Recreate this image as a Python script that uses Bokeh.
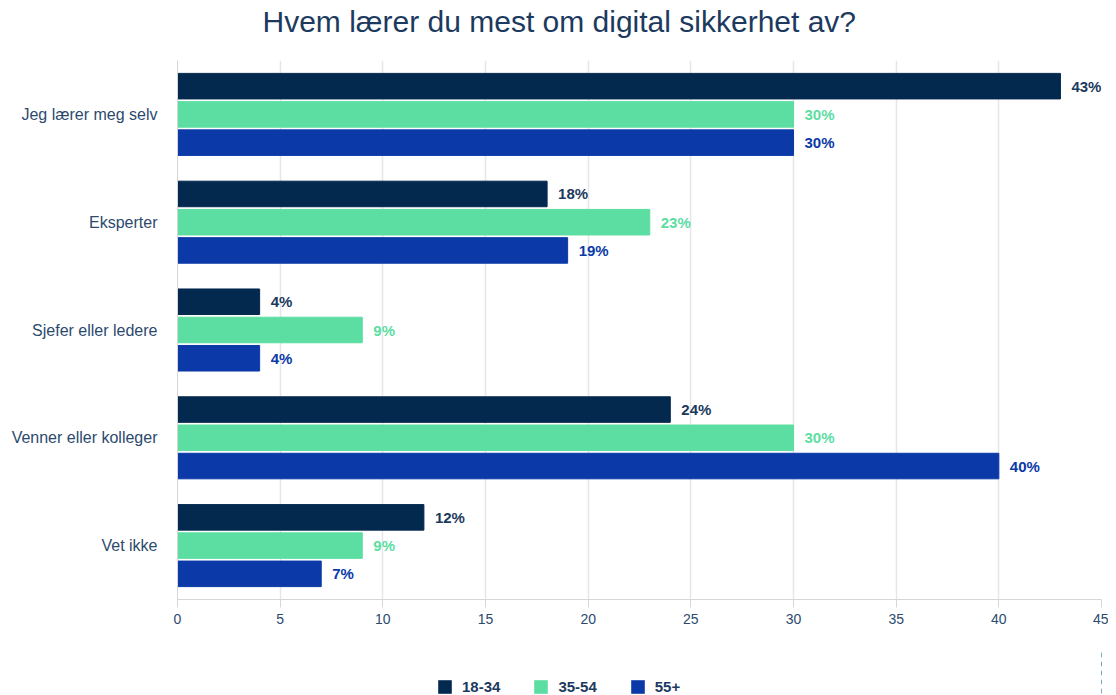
from bokeh.plotting import figure
from bokeh.layouts import column
from bokeh.models import ColumnDataSource, FactorRange, Range1d, LabelSet, Legend, LegendItem, FixedTicker, Title
from bokeh.transform import dodge
from bokeh.core.properties import value
from bokeh.embed import file_html
from bokeh.resources import INLINE

categories = ["Jeg lærer meg selv", "Eksperter", "Sjefer eller ledere", "Venner eller kolleger", "Vet ikke"]
groups = ["18-34", "35-54", "55+"]
v_18_34 = [43, 18, 4, 24, 12]
v_35_54 = [30, 23, 9, 30, 9]
v_55 = [30, 19, 4, 40, 7]
x_ticks = [0, 5, 10, 15, 20, 25, 30, 35, 40, 45]

colors = ["#04294f", "#5cdea2", "#0b3aa8"]
series = [v_18_34, v_35_54, v_55]
offsets = [0.262, 0.0, -0.262]

FONT = "Liberation Sans"
TXT = "#2c4a6e"

p = figure(width=1108, height=650, output_backend="svg", toolbar_location=None,
           y_range=FactorRange(factors=list(reversed(categories)), range_padding=0),
           x_range=Range1d(0, 45), min_border_left=177, min_border_right=7,
           min_border_top=0, min_border_bottom=51)
# blank spacer between the title and the plot frame
p.add_layout(Title(text=" ", text_alpha=0.01, text_font_size="10px", standoff=8), "above")
p.title = Title(text="Hvem lærer du mest om digital sikkerhet av?", align="left",
                text_font=FONT, text_font_size="30px", text_font_style="normal",
                text_color="#1c3a5e", offset=85, standoff=4)
p.outline_line_color = None

sources = []
for g, vals, col, off in zip(groups, series, colors, offsets):
    src = ColumnDataSource(dict(cat=categories, val=vals, lbl=[f"{v}%" for v in vals]))
    sources.append(src)
    p.hbar(y=dodge("cat", off, range=p.y_range), right="val", left=0, height=0.237,
           source=src, fill_color=col, line_color=col)
    labels = LabelSet(x="val", y=dodge("cat", off, range=p.y_range), text="lbl", source=src,
                      x_offset=11, text_baseline="middle", text_font=value(FONT),
                      text_font_size=value("15px"), text_font_style=value("bold"),
                      text_color=value("#1c3a5e" if g == "18-34" else col))
    p.add_layout(labels)

p.xaxis.ticker = FixedTicker(ticks=x_ticks)
p.xaxis.axis_line_color = "#d6d6d6"
p.xaxis.major_tick_line_color = "#d6d6d6"
p.xaxis.major_tick_out = 8
p.xaxis.major_tick_in = 0
p.xaxis.minor_tick_line_color = None
p.xaxis.major_label_text_font = FONT
p.xaxis.major_label_text_font_size = "14px"
p.xaxis.major_label_text_color = TXT
p.xaxis.major_label_standoff = 6

p.yaxis.axis_line_color = "#d6d6d6"
p.yaxis.major_tick_line_color = None
p.yaxis.minor_tick_line_color = None
p.yaxis.major_label_text_font = FONT
p.yaxis.major_label_text_font_size = "16px"
p.yaxis.major_label_text_color = TXT
p.yaxis.major_label_standoff = 14

p.xgrid.grid_line_color = "#e6e6e6"
p.xgrid.grid_line_width = 1.5
p.ygrid.grid_line_color = None

# legend strip below the chart (its bars fall outside its own x range, only the legend shows)
lg = figure(width=1108, height=45, output_backend="svg", toolbar_location=None,
            x_range=Range1d(-2, -1), y_range=FactorRange(factors=categories),
            min_border_left=0, min_border_right=0, min_border_top=0, min_border_bottom=0)
lg.axis.visible = False
lg.grid.visible = False
lg.outline_line_color = None
items = []
for g, col, src in zip(groups, colors, sources):
    r = lg.hbar(y="cat", right="val", left=0, height=0.5, source=src,
                fill_color=col, line_color=None)
    items.append(LegendItem(label=g, renderers=[r]))
legend = Legend(items=items, orientation="horizontal", location=(259, 0), border_line_color=None,
                background_fill_alpha=0, glyph_width=17, glyph_height=17, label_standoff=9,
                spacing=32, padding=0, margin=0, label_text_font=FONT, label_text_font_size="15px",
                label_text_font_style="bold", label_text_color="#1c3a5e", label_height=17)
lg.add_layout(legend, "center")

layout = column(p, lg, spacing=0)
open("out.html", "w").write(file_html(layout, INLINE))
